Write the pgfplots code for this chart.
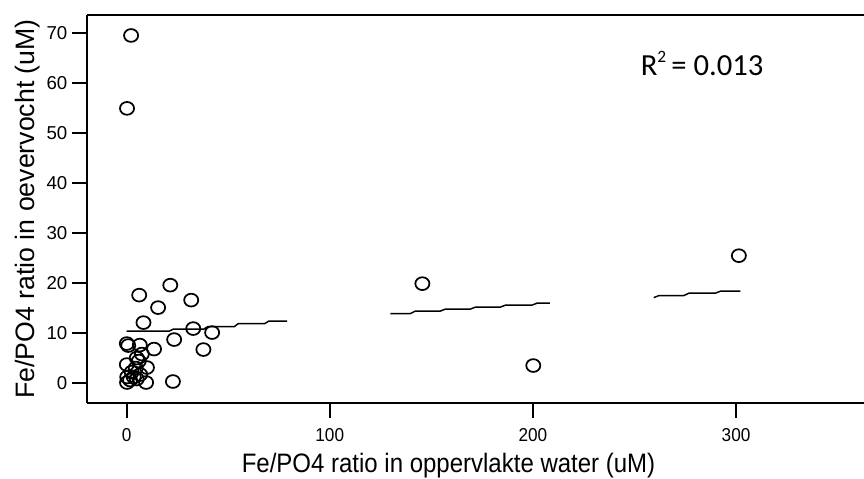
\documentclass[border=0pt]{standalone}
\usepackage{fontspec}
\setmainfont{Liberation Sans}
\newfontfamily\carlito{Carlito}
\usepackage{pgfplots}
\pgfplotsset{compat=1.18}
\begin{document}
\begin{tikzpicture}
\begin{axis}[
  scale only axis,
  width=582.75pt, height=291pt,
  xmin=-19.5, xmax=363,
  ymin=-4, ymax=73.7,
  axis x line*=box,
  axis y line*=left,
  axis line style={line width=1.5pt, black},
  tick pos=left,
  tick align=outside,
  major tick length=11.25pt,
  tick style={line width=1.5pt, black},
  xtick={0,100,200,300},
  ytick={0,10,20,30,40,50,60,70},
  /pgf/number format/assume math mode=true,
  tick label style={font=\fontsize{14}{16}\selectfont},
  xticklabel style={yshift=-4pt, xscale=0.92},
  xlabel={Fe/PO4 ratio in oppervlakte water (uM)},
  ylabel={Fe/PO4 ratio in oevervocht (uM)},
  xlabel style={font=\fontsize{20}{23}\selectfont, xscale=0.9, yshift=-2pt, xshift=-22.5pt},
  ylabel style={font=\fontsize{20}{23}\selectfont, yshift=-2pt},
  clip=false,
]
\addplot[only marks, mark=o, mark size=4.8pt, line width=1.3pt, black, mark options={xscale=1.1}] coordinates {
(2.2,69.6) (0.2,55.0) (21.5,19.6) (6.2,17.6) (31.8,16.6) (15.5,15.1)
(8.3,12.1) (32.8,10.9) (42.1,10.1) (23.4,8.7) (0.1,7.9) (0.8,7.5)
(6.5,7.6) (13.5,6.8) (37.8,6.7) (7.5,5.8) (5.0,5.0) (6.0,4.4)
(0.1,3.7) (10.0,3.1) (4.5,3.0) (2.5,2.2) (6.7,1.7) (3.5,1.2)
(0.3,1.2) (1.7,0.6) (0.2,0.1) (9.6,0.1) (5.0,0.8) (22.8,0.3)
(145.6,19.9) (200.2,3.5) (301.4,25.5)
};
\addplot[black, line width=1.1pt] coordinates {
(0,10.4) (21,10.4) (23,10.8) (38,10.8) (40,11.3) (53,11.3) (55,11.9) (68,11.9) (70,12.4) (79,12.4)
};
\addplot[black, line width=1.1pt] coordinates {
(129.8,13.9) (139.7,13.9) (142.1,14.4) (154.4,14.4) (156.9,14.8) (169.2,14.8) (171.7,15.2) (184,15.2) (186.5,15.6) (199.6,15.6) (202.1,16.0) (208.3,16.0)
};
\addplot[black, line width=1.1pt] coordinates {
(259.5,17.1) (262,17.5) (274.3,17.5) (276.8,18.0) (289.9,18.0) (292.4,18.4) (302.2,18.4)
};
\node[anchor=base west, inner sep=0pt, font=\carlito\fontsize{23}{27}\selectfont] at (axis cs:253,61.6) {R\raisebox{0.42em}{\fontsize{13}{13}\selectfont 2}\,= 0.013};
\coordinate (sw) at (rel axis cs:0,0);
\coordinate (ne) at (rel axis cs:1,1);
\end{axis}
\pgfresetboundingbox
\path[use as bounding box] ([xshift=-65.25pt,yshift=-57pt]sw) rectangle ([yshift=11.25pt]ne);
\end{tikzpicture}
\end{document}
